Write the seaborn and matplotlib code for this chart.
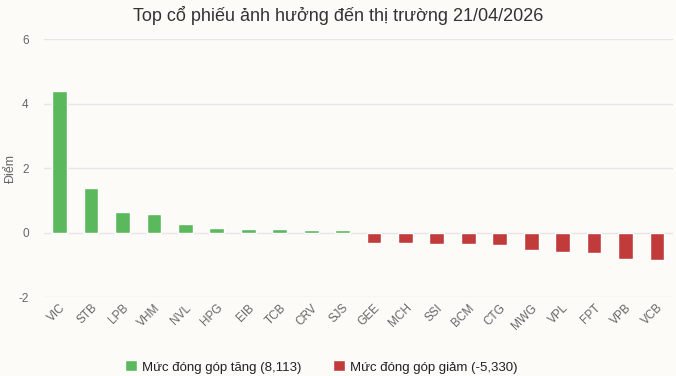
import matplotlib
matplotlib.use("Agg")
import matplotlib.pyplot as plt
import seaborn as sns
import pandas as pd
from matplotlib.patches import Patch

tickers = ["VIC", "STB", "LPB", "VHM", "NVL", "HPG", "EIB", "TCB", "CRV", "SJS",
           "GEE", "MCH", "SSI", "BCM", "CTG", "MWG", "VPL", "FPT", "VPB", "VCB"]
values = [4.40, 1.39, 0.64, 0.59, 0.25, 0.15, 0.12, 0.12, 0.09, 0.08,
          -0.31, -0.31, -0.34, -0.37, -0.40, -0.53, -0.59, -0.63, -0.82, -0.85]
legend_up = "Mức đóng góp tăng (8,113)"
legend_down = "Mức đóng góp giảm (-5,330)"
title = "Top cổ phiếu ảnh hưởng đến thị trường 21/04/2026"
ylabel = "Điểm"

GREEN = "#5cb85c"
RED = "#c23b3b"
BG = "#fcfbf8"

df = pd.DataFrame({"ticker": tickers, "value": values})
df["group"] = [legend_up if v >= 0 else legend_down for v in values]

sns.set_theme(style="white")
plt.rcParams["font.family"] = ["Liberation Sans", "DejaVu Sans"]
plt.rcParams["axes.unicode_minus"] = False

fig = plt.figure(figsize=(6.76, 3.76), dpi=100, facecolor=BG)
ax = fig.add_axes([0.065, 0.21, 0.93, 0.686])
ax.set_facecolor(BG)

sns.barplot(data=df, x="ticker", y="value", hue="group",
            palette={legend_up: GREEN, legend_down: RED},
            dodge=False, width=0.47, legend=False, ax=ax, saturation=1)

ax.set_ylim(-2, 6)
ax.set_xlim(-0.5, len(tickers) - 0.5)
ax.set_yticks([-2, 0, 2, 4, 6])
ax.yaxis.grid(True, color="#e6e6e6", linewidth=1)
ax.set_axisbelow(True)
for s in ax.spines.values():
    s.set_visible(False)
ax.tick_params(axis="both", length=0, colors="#666666", labelsize=8.5)
ax.tick_params(axis="y", pad=11)
plt.setp(ax.get_xticklabels(), rotation=45, ha="right", rotation_mode="anchor")
ax.set_xlabel("")
ax.set_ylabel(ylabel, color="#666666", fontsize=9)
ax.yaxis.set_label_coords(-0.043, 0.5)

fig.suptitle(title, y=0.985, fontsize=13, color="#333333")

handles = [Patch(facecolor=GREEN, label=legend_up), Patch(facecolor=RED, label=legend_down)]
leg = fig.legend(handles=handles, loc="lower center", bbox_to_anchor=(0.475, -0.025), ncol=2,
                 frameon=False, fontsize=9.5, handlelength=0.9, handleheight=0.9,
                 handletextpad=0.4, columnspacing=2.4)
for t in leg.get_texts():
    t.set_color("#222222")

fig.savefig("out.png", dpi=100, facecolor=BG)
